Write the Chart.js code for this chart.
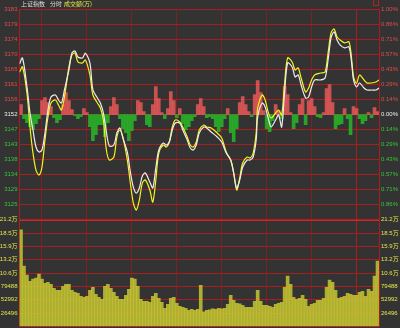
<!DOCTYPE html>
<html>
<head>
<meta charset="utf-8">
<script src="https://cdn.jsdelivr.net/npm/chart.js@4/dist/chart.umd.min.js"></script>
<style>
    html, body { margin: 0; padding: 0; background: #333333; }
    #wrap { position: relative; width: 400px; height: 328px; overflow: hidden; }
    #head span { position: absolute; top: 0px; font-family: "Noto Sans CJK SC"; font-size: 6px; line-height: 8px; white-space: nowrap; }
    #icon { position: absolute; left: 373px; top: 0px; width: 4px; height: 5px; border: 1px solid #b02222; border-top: none; }
</style>
</head>
<body>
<div id="wrap">
    <canvas id="chart" width="400" height="328"></canvas>
    <div id="head">
        <span style="left:21px;color:#dddddd">上证指数</span>
        <span style="left:50px;color:#dddddd">分时</span>
        <span style="left:64px;color:#e8e84a">成交额(万)</span>
    </div>
    <div id="icon"></div>
</div>
<script>
// 昨收 & 刻度
const prevClose = 3152.2;
const priceLabels = ["3183", "3179", "3174", "3170", "3165", "3161", "3156", "3152", "3147", "3143", "3138", "3134", "3129", "3125"];
const pctLabels = ["1.00%", "0.86%", "0.71%", "0.57%", "0.43%", "0.29%", "0.14%", "0.00%", "0.14%", "0.29%", "0.43%", "0.57%", "0.71%", "0.86%"];
const volLabels = ["21.2万", "18.5万", "15.9万", "13.2万", "10.6万", "79488", "52992", "26496"];
const volStep = 26496;

// 分时走势 (分钟, 指数, 不含加权)
const minutes = [0, 2, 5, 7, 9, 11, 13, 15, 17, 19, 21, 24, 26, 28, 30, 33, 35, 37, 39, 42, 44, 47, 49, 52, 54, 56, 58, 60, 63, 65, 67, 69, 72, 74, 76, 78, 80, 82, 84, 87, 89, 91, 93, 96, 98, 100, 102, 104, 107, 109, 112, 114, 116, 118, 120, 123, 125, 128, 132, 135, 138, 141, 143, 145, 147, 149, 152, 154, 156, 158, 159, 162, 164, 166, 168, 171, 173, 175, 177, 179, 182, 184, 186, 188, 191, 193, 195, 197, 201, 204, 206, 208, 210, 212, 214, 217, 220, 222, 223, 225, 227, 230, 232, 235, 238, 240];
const indexLine = [3167.4, 3169.2, 3160.5, 3152.7, 3147.6, 3142.5, 3141.0, 3141.6, 3146.7, 3153.6, 3157.5, 3158.1, 3156.6, 3155.7, 3159.6, 3165.6, 3170.7, 3171.3, 3169.5, 3169.2, 3170.6, 3167.7, 3159.6, 3157.2, 3155.7, 3152.7, 3147.0, 3142.8, 3143.1, 3146.7, 3148.2, 3145.2, 3141.0, 3135.0, 3130.5, 3128.7, 3130.2, 3133.8, 3134.7, 3132.0, 3130.2, 3136.2, 3141.6, 3143.7, 3143.1, 3144.0, 3147.6, 3149.7, 3149.7, 3147.6, 3144.6, 3142.2, 3141.6, 3143.1, 3146.7, 3148.5, 3148.2, 3147.0, 3145.5, 3144.0, 3140.7, 3138.6, 3134.7, 3130.2, 3132.6, 3136.5, 3138.6, 3138.6, 3139.5, 3144.6, 3151.5, 3155.7, 3154.5, 3151.2, 3148.5, 3150.6, 3152.1, 3148.5, 3159.0, 3167.7, 3166.5, 3163.5, 3164.1, 3161.1, 3157.2, 3157.5, 3160.5, 3162.6, 3162.6, 3163.2, 3168.6, 3175.2, 3177.0, 3174.6, 3173.1, 3172.2, 3172.5, 3166.5, 3162.6, 3160.5, 3161.7, 3160.2, 3159.6, 3159.6, 3159.6, 3160.2];
const avgLine = [3164.9, 3166.5, 3158.6, 3148.5, 3140.7, 3135.6, 3134.1, 3136.5, 3144.6, 3151.5, 3155.7, 3156.6, 3155.1, 3153.6, 3157.5, 3166.5, 3170.1, 3170.7, 3168.0, 3167.7, 3168.6, 3164.1, 3158.1, 3155.7, 3154.2, 3150.6, 3141.6, 3138.6, 3139.5, 3145.5, 3147.6, 3145.5, 3138.6, 3131.7, 3125.7, 3123.6, 3126.6, 3131.7, 3132.6, 3129.6, 3126.0, 3132.6, 3140.7, 3143.1, 3142.5, 3144.0, 3148.5, 3150.6, 3150.0, 3148.5, 3145.5, 3143.1, 3142.5, 3144.0, 3147.6, 3149.1, 3148.5, 3148.2, 3146.7, 3145.2, 3141.0, 3138.6, 3134.7, 3129.6, 3133.2, 3137.7, 3139.5, 3139.2, 3140.7, 3146.7, 3154.2, 3158.1, 3156.6, 3153.0, 3151.2, 3152.7, 3153.6, 3152.1, 3161.7, 3169.2, 3168.0, 3165.6, 3166.2, 3163.2, 3159.0, 3160.2, 3162.6, 3164.1, 3164.7, 3165.0, 3170.7, 3176.7, 3177.9, 3175.5, 3174.6, 3173.7, 3174.0, 3167.7, 3163.5, 3161.6, 3164.1, 3162.6, 3161.7, 3161.7, 3162.0, 3162.6];

// 红绿柱 (每2分钟, 相对昨收的点数)
const flow = [3.0, -1.2, -2.4, -3.6, -4.5, -2.7, -1.2, 4.2, 5.1, 3.6,
    2.4, -0.9, -2.4, -1.5, 3.0, 6.6, 4.2, 1.5, -0.3, -1.2,
    -0.6, 1.8, 0.6, -3.6, -7.8, -6.0, -3.0, -3.0, -6.6, -2.4,
    2.4, 5.1, 3.0, -1.2, -4.2, -5.4, -7.8, -4.8, -1.8, 4.2,
    3.6, 0.9, -3.0, -3.6, 3.0, 8.4, 4.8, 0.6, -1.2, 1.8,
    6.9, 4.2, -0.9, 1.8, -2.7, -4.5, -3.6, -1.8, -0.6, 3.0,
    4.8, 2.4, -0.9, -0.6, -1.2, -3.6, -5.1, -3.6, -1.2, 1.8,
    -5.4, -8.1, -4.2, 3.6, 5.4, 3.0, 0.9, -0.6, 6.0, 10.2,
    6.6, 1.2, -4.2, -5.1, -1.8, 3.0, 1.2, -1.2, 8.4, 6.0,
    0.6, -4.2, -2.4, 3.0, 4.8, -3.0, 4.2, 4.8, 2.4, -0.6,
    -0.9, 0.6, 7.8, 9.0, 3.6, -4.2, -3.0, -2.7, 1.8, -1.2,
    -6.0, 2.4, 1.8, -1.2, -2.7, -1.8, 0.6, -0.9, 2.1, 0.9];

// 成交额 (每2分钟)
const volume = [192000, 120000, 102000, 90000, 94000, 96000, 104000, 94000, 86000, 88000,
    84000, 76000, 72000, 72000, 80000, 84000, 84000, 72000, 68000, 66000,
    60000, 58000, 60000, 72000, 78000, 64000, 58000, 54000, 80000, 84000,
    76000, 68000, 60000, 54000, 54000, 62000, 74000, 96000, 94000, 80000,
    54000, 50000, 50000, 48000, 60000, 66000, 56000, 48000, 36000, 44000,
    56000, 58000, 46000, 40000, 38000, 36000, 32000, 34000, 32000, 34000,
    82000, 29000, 32000, 33000, 35000, 34000, 36000, 35000, 36000, 44000,
    62000, 52000, 46000, 45000, 42000, 38000, 38000, 38000, 50000, 72000,
    50000, 42000, 42000, 40000, 38000, 44000, 46000, 48000, 78000, 100000,
    84000, 58000, 54000, 56000, 62000, 54000, 40000, 44000, 46000, 52000,
    52000, 56000, 78000, 92000, 88000, 72000, 56000, 58000, 60000, 66000,
    64000, 62000, 62000, 68000, 70000, 60000, 74000, 70000, 100000, 130000];

const RED = "#a81e1e";
const tickFont = { family: '"Liberation Sans", "Noto Sans CJK SC"', size: 6 };

// 刻度: 价格按昨收 ±1%, 分 14 格
const priceTicks = (scale) => {
    const t = [];
    for (let k = -7; k <= 7; k++) t.push({ value: prevClose * (1 + k / 700) });
    scale.ticks = t;
};
const volTicks = (scale) => {
    const t = [];
    for (let k = 0; k <= 8; k++) t.push({ value: k * volStep });
    scale.ticks = t;
};
// 固定轴宽, 去掉标签带来的上下留白
const fitAxis = (w) => (scale) => {
    scale.width = w;
    scale.paddingTop = 0;
    scale.paddingBottom = 0;
};
const fromTop = (labels) => (value, index, ticks) => labels[ticks.length - 1 - index] ?? "";
const priceColor = (ctx) => {
    const i = 14 - ctx.index;
    if (i < 7) return "#e84a4a";
    if (i === 7) return "#eeeeee";
    return "#35c835";
};

const linePts = (vals) => minutes.map((m, i) => ({ x: m, y: vals[i] }));
const flowPts = flow.map((v, i) => ({ x: 2 * i + 1, y: [prevClose, prevClose + v] }));
const volPts = volume.map((v, i) => ({ x: 2 * i + 1, y: v }));

new Chart(document.getElementById("chart"), {
    type: "line",
    data: {
        datasets: [
            {
                label: "上证指数",
                data: linePts(indexLine),
                borderColor: "#ececec",
                borderWidth: 1.2,
                pointRadius: 0,
                tension: 0.3,
                yAxisID: "yPrice",
                order: 0,
            },
            {
                label: "不含加权",
                data: linePts(avgLine),
                borderColor: "#f2f21e",
                borderWidth: 1.2,
                pointRadius: 0,
                tension: 0.3,
                yAxisID: "yPrice",
                order: 1,
            },
            {
                type: "bar",
                label: "红绿柱",
                data: flowPts,
                backgroundColor: flow.map((v) => (v >= 0 ? "rgba(232,88,88,0.85)" : "rgba(40,175,40,0.9)")),
                barPercentage: 1,
                categoryPercentage: 1,
                grouped: false,
                yAxisID: "yPrice",
                order: 2,
            },
            {
                type: "bar",
                label: "成交额",
                data: volPts,
                backgroundColor: "rgba(205,205,50,0.8)",
                barPercentage: 1,
                categoryPercentage: 1,
                grouped: false,
                yAxisID: "yVol",
                order: 3,
            },
        ],
    },
    options: {
        responsive: false,
        animation: false,
        devicePixelRatio: 1,
        layout: { padding: { top: 9.5, bottom: 1.5, left: 0, right: 0 } },
        plugins: { legend: { display: false }, tooltip: { enabled: false } },
        scales: {
            x: {
                type: "linear",
                min: 0,
                max: 240,
                offset: false,
                ticks: { display: false, stepSize: 30 },
                grid: {
                    drawTicks: false,
                    color: (ctx) => (ctx.tick && (ctx.tick.value === 0 || ctx.tick.value === 240) ? RED : "#7c2020"),
                    borderDash: (ctx) => (ctx.tick && (ctx.tick.value === 0 || ctx.tick.value === 240) ? [] : [2, 2]),
                },
                border: { color: RED },
            },
            // 左侧堆叠轴按倒序排列, 所以成交额轴写在前面
            yVol: {
                type: "linear",
                position: "left",
                stack: "L",
                stackWeight: 106.5,
                min: 0,
                max: 8 * volStep,
                afterBuildTicks: volTicks,
                afterFit: fitAxis(19.5),
                ticks: { autoSkip: false, padding: 2, font: tickFont, color: "#e6e64a", callback: fromTop(volLabels) },
                grid: {
                    drawTicks: false,
                    color: (ctx) => (ctx.index === 8 ? "#d02828" : RED),
                    lineWidth: (ctx) => (ctx.index === 8 ? 2 : 1),
                },
                border: { color: RED },
            },
            yPrice: {
                type: "linear",
                position: "left",
                stack: "L",
                stackWeight: 210,
                min: prevClose * 0.99,
                max: prevClose * 1.01,
                afterBuildTicks: priceTicks,
                afterFit: fitAxis(19.5),
                ticks: { autoSkip: false, padding: 2, font: tickFont, color: priceColor, callback: fromTop(priceLabels) },
                grid: { drawTicks: false, color: RED },
                border: { color: RED },
            },
            yPct: {
                type: "linear",
                position: "right",
                stack: "R",
                stackWeight: 210,
                min: prevClose * 0.99,
                max: prevClose * 1.01,
                afterBuildTicks: priceTicks,
                afterFit: fitAxis(21),
                ticks: { autoSkip: false, padding: 2, font: tickFont, color: priceColor, callback: fromTop(pctLabels) },
                grid: { drawTicks: false, drawOnChartArea: false },
                border: { color: RED },
            },
            yVolR: {
                type: "linear",
                position: "right",
                stack: "R",
                stackWeight: 106.5,
                min: 0,
                max: 8 * volStep,
                afterBuildTicks: volTicks,
                afterFit: fitAxis(21),
                ticks: { autoSkip: false, padding: 2, font: tickFont, color: "#e6e64a", callback: fromTop(volLabels) },
                grid: { drawTicks: false, drawOnChartArea: false },
                border: { color: RED },
            },
        },
    },
});
</script>
</body>
</html>
